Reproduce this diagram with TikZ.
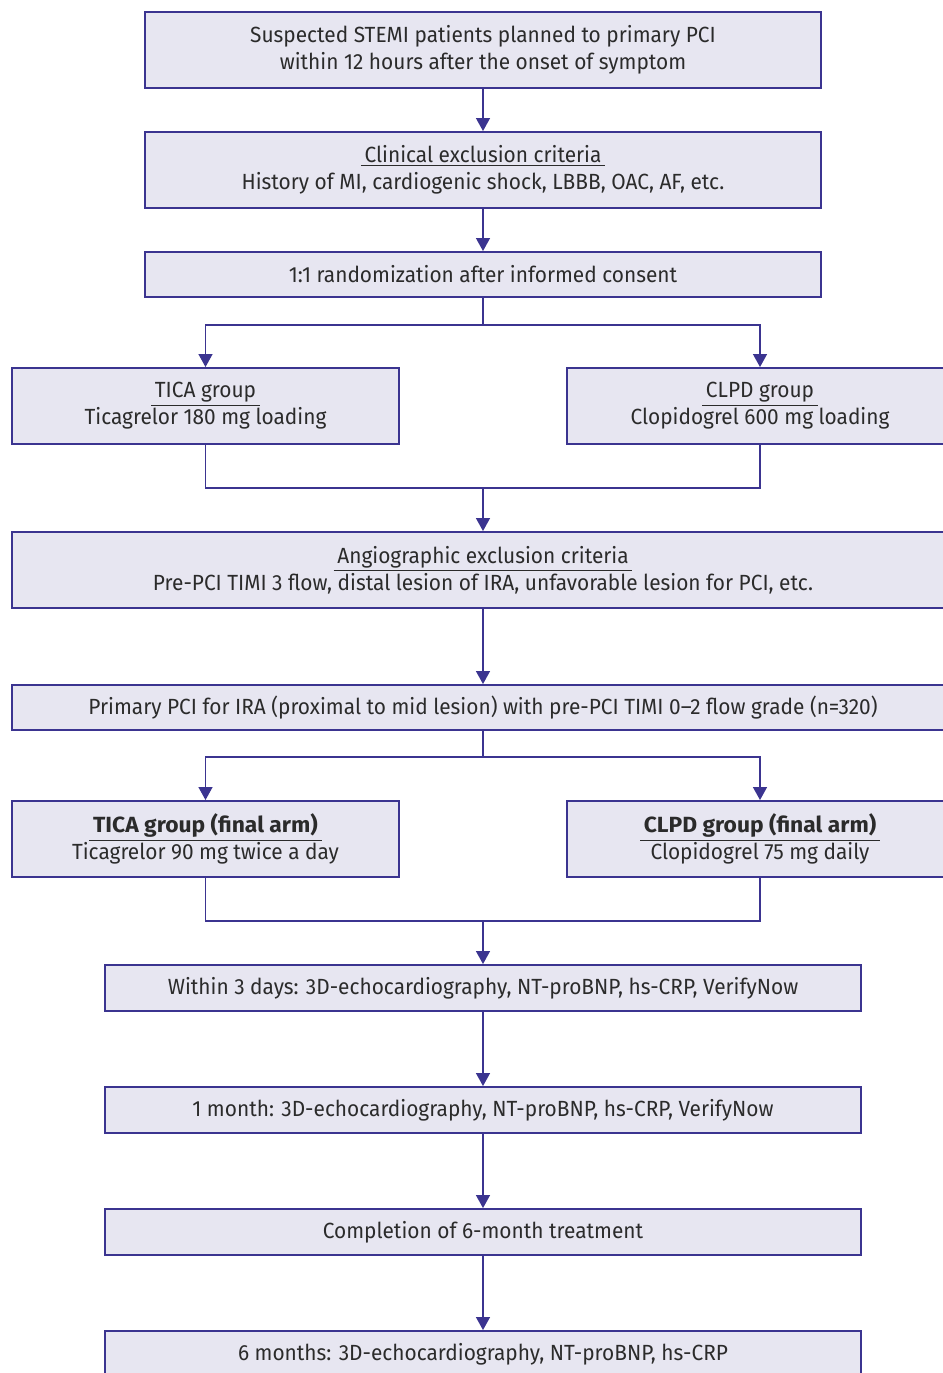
\documentclass[tikz,border=0pt]{standalone}
\usepackage{fontspec}
\setmainfont{Fira Sans}[FakeStretch=0.95, BoldFeatures={FakeStretch=1.04}]
\usepackage{tikz}
\usetikzlibrary{arrows.meta, positioning, calc}

\definecolor{boxfill}{HTML}{E7E6F1}
\definecolor{boxline}{HTML}{3B3490}
\definecolor{boxtext}{HTML}{2B2B2B}

\begin{document}
\begin{tikzpicture}[x=0.02cm, y=-0.02cm, >={Triangle[width=0.28cm,length=0.26cm]},
  box/.style={rectangle, draw=boxline, fill=boxfill, line width=1.1pt, text=boxtext, align=center,
    font=\fontsize{12.5}{15.3}\selectfont, inner sep=0pt},
  tallbox/.style={box, minimum height=1.52cm},
  flatbox/.style={box, minimum height=0.9cm},
  link/.style={draw=boxline, line width=0.75pt}]
\clip (0,0) rectangle (943,1373);

% Enrolment
\node[tallbox, minimum width=13.52cm] (suspect) at (483,50) {Suspected STEMI patients planned to primary PCI\\within 12 hours after the onset of symptom};
\node[tallbox, minimum width=13.52cm] (clinexcl) at (483,170) {\underline{\,Clinical exclusion criteria\,}\\History of MI, cardiogenic shock, LBBB, OAC, AF, etc.};
\node[flatbox, minimum width=13.52cm] (random) at (483,274.5) {1:1 randomization after informed consent};

% Loading arms
\node[tallbox, minimum width=7.74cm] (tica) at (205.5,406) {\underline{\,TICA group\,}\\Ticagrelor 180 mg loading};
\node[tallbox, minimum width=7.74cm] (clpd) at (760,406) {\underline{\,CLPD group\,}\\Clopidogrel 600 mg loading};

% Angiography
\node[tallbox, minimum width=18.84cm] (angioexcl) at (483,570) {\underline{\,Angiographic exclusion criteria\,}\\Pre-PCI TIMI 3 flow, distal lesion of IRA, unfavorable lesion for PCI, etc.};
\node[flatbox, minimum width=18.84cm] (pci) at (483,707.5) {Primary PCI for IRA (proximal to mid lesion) with pre-PCI TIMI 0--2 flow grade (n=320)};

% Final arms
\node[tallbox, minimum width=7.74cm] (ticafinal) at (205.5,839) {\underline{\,\textbf{TICA group (final arm)}\,}\\Ticagrelor 90 mg twice a day};
\node[tallbox, minimum width=7.74cm] (clpdfinal) at (760,839) {\underline{\,\textbf{CLPD group (final arm)}\,}\\Clopidogrel 75 mg daily};

% Follow-up
\node[flatbox, minimum width=15.12cm, minimum height=0.92cm] (day3) at (483,988) {Within 3 days: 3D-echocardiography, NT-proBNP, hs-CRP, VerifyNow};
\node[flatbox, minimum width=15.12cm, minimum height=0.92cm] (month1) at (483,1110) {1 month: 3D-echocardiography, NT-proBNP, hs-CRP, VerifyNow};
\node[flatbox, minimum width=15.12cm, minimum height=0.92cm] (complete) at (483,1232) {Completion of 6-month treatment};
\node[flatbox, minimum width=15.12cm, minimum height=0.92cm] (month6) at (483,1354) {6 months: 3D-echocardiography, NT-proBNP, hs-CRP};

% Split and merge points
\coordinate (split1) at (483,325);
\coordinate (merge1) at (483,488);
\coordinate (split2) at (483,757);
\coordinate (merge2) at (483,921);

% Arrows
\draw[link, ->] (suspect) -- (clinexcl);
\draw[link, ->] (clinexcl) -- (random);
\draw[link] (random) -- (split1);
\draw[link, ->] (split1) -| (tica);
\draw[link, ->] (split1) -| (clpd);
\draw[link] (tica) |- (merge1);
\draw[link] (clpd) |- (merge1);
\draw[link, ->] (merge1) -- (angioexcl);
\draw[link, ->] (angioexcl) -- (pci);
\draw[link] (pci) -- (split2);
\draw[link, ->] (split2) -| (ticafinal);
\draw[link, ->] (split2) -| (clpdfinal);
\draw[link] (ticafinal) |- (merge2);
\draw[link] (clpdfinal) |- (merge2);
\draw[link, ->] (merge2) -- (day3);
\draw[link, ->] (day3) -- (month1);
\draw[link, ->] (month1) -- (complete);
\draw[link, ->] (complete) -- (month6);
\end{tikzpicture}
\end{document}
